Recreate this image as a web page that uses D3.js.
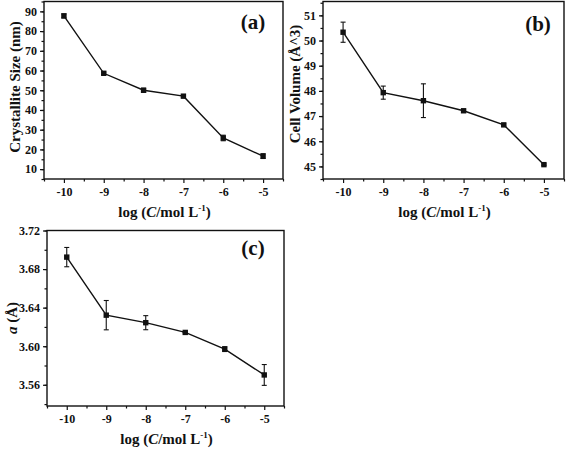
<!DOCTYPE html>
<html><head><meta charset="utf-8">
<script src="https://cdn.jsdelivr.net/npm/d3@7"></script>
<style>body{margin:0;background:#fff}svg{display:block}text{font-family:"Liberation Serif","Times New Roman",serif;font-weight:bold;fill:#111}</style>
</head><body><svg id="c" width="567" height="449"></svg>
<script>
const concentrations = [-10, -9, -8, -7, -6, -5];
const xTicks = [-10, -9, -8, -7, -6, -5];
// (a) Crystallite size
const sizeValues = [87.7, 58.6, 50.0, 47.0, 25.8, 16.6];
const sizeErrors = [1.0, 0.6, 1.0, 0.6, 1.4, 1.2];
const sizeTicks = [10, 20, 30, 40, 50, 60, 70, 80, 90];
// (b) Cell volume
const volumeValues = [50.33, 47.93, 47.61, 47.21, 46.65, 45.07];
const volumeErrors = [0.40, 0.26, 0.67, 0.03, 0.04, 0.03];
const volumeTicks = [45, 46, 47, 48, 49, 50, 51];
// (c) Lattice parameter a
const aValues = [3.6924, 3.6322, 3.6244, 3.6143, 3.5970, 3.5702];
const aErrors = [0.0100, 0.0152, 0.0073, 0.0005, 0.0025, 0.0108];
const aTicks = [3.56, 3.60, 3.64, 3.68, 3.72];

const svg = d3.select("#c");

function panel(o) {
  const x = d3.scaleLinear().domain([-10.5, -4.5]).range([o.left, o.right]);
  const y = d3.scaleLinear().domain(o.yDomain).range([o.bottom, o.top]);
  const g = svg.append("g");
  // frame
  g.append("rect").attr("x", o.left).attr("y", o.top).attr("width", o.right - o.left).attr("height", o.bottom - o.top)
    .attr("fill", "none").attr("stroke", "#111").attr("stroke-width", 1.4);
  // x axis
  const xa = g.append("g").attr("transform", `translate(0,${o.bottom})`)
    .call(d3.axisBottom(x).tickValues(xTicks).tickSize(4).tickPadding(4).tickFormat(d3.format("d")));
  xa.select(".domain").remove();
  xa.selectAll("line").attr("stroke", "#111").attr("stroke-width", 1.2);
  xa.selectAll("text").attr("font-size", 12).text(d => "-" + Math.abs(d));
  const xm = g.append("g").attr("transform", `translate(0,${o.bottom})`)
    .call(d3.axisBottom(x).tickValues(d3.range(-10.5, -4.4, 1)).tickSize(2.5).tickFormat(""));
  xm.select(".domain").remove();
  xm.selectAll("line").attr("stroke", "#111").attr("stroke-width", 1.2);
  // y axis
  const ya = g.append("g").attr("transform", `translate(${o.left},0)`)
    .call(d3.axisLeft(y).tickValues(o.yTicks).tickSize(4).tickPadding(3).tickFormat(o.fmt));
  ya.select(".domain").remove();
  ya.selectAll("line").attr("stroke", "#111").attr("stroke-width", 1.2);
  ya.selectAll("text").attr("font-size", 12);
  const ym = g.append("g").attr("transform", `translate(${o.left},0)`)
    .call(d3.axisLeft(y).tickValues(o.yMinor).tickSize(2.5).tickFormat(""));
  ym.select(".domain").remove();
  ym.selectAll("line").attr("stroke", "#111").attr("stroke-width", 1.2);
  // line
  const pts = concentrations.map((c, i) => ({c, v: o.values[i], e: o.errors[i]}));
  g.append("path").datum(pts).attr("fill", "none").attr("stroke", "#111").attr("stroke-width", 1.4)
    .attr("d", d3.line().x(d => x(d.c)).y(d => y(d.v)));
  // error bars
  const eb = g.selectAll(".eb").data(pts).enter().append("g");
  eb.append("line").attr("x1", d => x(d.c)).attr("x2", d => x(d.c))
    .attr("y1", d => y(d.v - d.e)).attr("y2", d => y(d.v + d.e)).attr("stroke", "#111").attr("stroke-width", 1.1);
  eb.append("line").attr("x1", d => x(d.c) - 2.5).attr("x2", d => x(d.c) + 2.5)
    .attr("y1", d => y(d.v + d.e)).attr("y2", d => y(d.v + d.e)).attr("stroke", "#111").attr("stroke-width", 1.1);
  eb.append("line").attr("x1", d => x(d.c) - 2.5).attr("x2", d => x(d.c) + 2.5)
    .attr("y1", d => y(d.v - d.e)).attr("y2", d => y(d.v - d.e)).attr("stroke", "#111").attr("stroke-width", 1.1);
  // markers
  g.selectAll(".m").data(pts).enter().append("rect")
    .attr("x", d => x(d.c) - 2.7).attr("y", d => y(d.v) - 2.7).attr("width", 5.4).attr("height", 5.4).attr("fill", "#111");
  // panel label
  g.append("text").attr("x", o.labelX).attr("y", o.labelY).attr("text-anchor", "middle").attr("font-size", 21).text(o.label);
  // x title
  const xt = g.append("text").attr("x", (o.left + o.right) / 2 + 1).attr("y", o.xTitleY).attr("text-anchor", "middle").attr("font-size", 15);
  xt.append("tspan").text("log (");
  xt.append("tspan").attr("font-style", "italic").text("C");
  xt.append("tspan").text("/mol L");
  xt.append("tspan").attr("font-size", 9).attr("dy", -6).text("-1");
  xt.append("tspan").attr("dy", 6).text(")");
  // y title
  const yt = g.append("text").attr("transform", `translate(${o.yTitleX},${o.yTitleY}) rotate(-90)`)
    .attr("text-anchor", "middle").attr("font-size", o.yTitleSize);
  o.yTitle(yt);
}

panel({left: 44, right: 283, top: 1.5, bottom: 179, yDomain: [5, 95],
  yTicks: sizeTicks, yMinor: d3.range(5, 96, 5), fmt: d3.format("d"),
  values: sizeValues, errors: sizeErrors, label: "(a)", labelX: 253, labelY: 29,
  xTitleY: 217, yTitleX: 20, yTitleY: 87, yTitleSize: 15,
  yTitle: t => t.text("Crystallite Size (nm)")});

panel({left: 323, right: 564, top: 1.5, bottom: 179, yDomain: [44.5, 51.55],
  yTicks: volumeTicks, yMinor: d3.range(44.5, 51.6, 0.5), fmt: d3.format("d"),
  values: volumeValues, errors: volumeErrors, label: "(b)", labelX: 538, labelY: 31,
  xTitleY: 217, yTitleX: 300, yTitleY: 84, yTitleSize: 15,
  yTitle: t => t.text("Cell Volume (Å^3)")});

panel({left: 47, right: 284, top: 230.5, bottom: 406, yDomain: [3.538, 3.72],
  yTicks: aTicks, yMinor: d3.range(3.54, 3.721, 0.02), fmt: d3.format(".2f"),
  values: aValues, errors: aErrors, label: "(c)", labelX: 253, labelY: 255,
  xTitleY: 444, yTitleX: 17, yTitleY: 318, yTitleSize: 15,
  yTitle: t => { t.append("tspan").attr("font-style", "italic").text("a"); t.append("tspan").text(" (Å)"); }});
</script></body></html>
